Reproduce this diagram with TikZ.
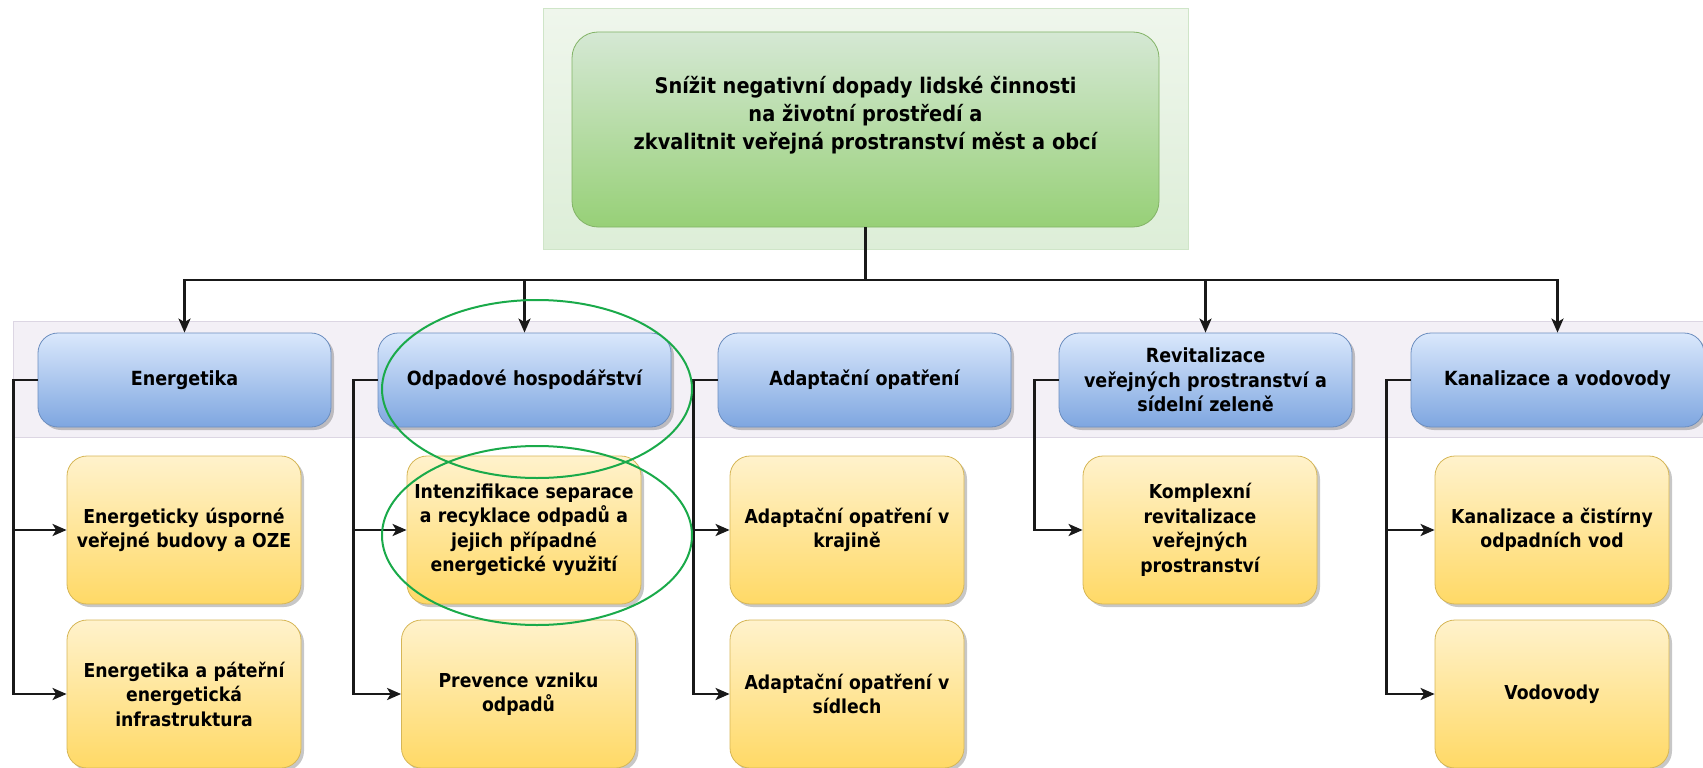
\documentclass[tikz,border=0pt]{standalone}
\usepackage{fontspec}
\setmainfont{DejaVu Sans Condensed}
\usetikzlibrary{arrows.meta,shadows,shapes.geometric}
\definecolor{blueTop}{HTML}{DAE8FC}
\definecolor{blueBot}{HTML}{7EA6E0}
\definecolor{blueStroke}{HTML}{6C8EBF}
\definecolor{yelTop}{HTML}{FFF2CC}
\definecolor{yelBot}{HTML}{FFD966}
\definecolor{yelStroke}{HTML}{D6B656}
\definecolor{grnTop}{HTML}{D5E8D4}
\definecolor{grnBot}{HTML}{97D077}
\definecolor{grnStroke}{HTML}{82B366}
\definecolor{bgTop}{HTML}{EFF6EC}
\definecolor{bgBot}{HTML}{DDEED8}
\definecolor{bgStroke}{HTML}{CFE5C8}
\definecolor{bandFill}{HTML}{F3F0F6}
\definecolor{bandStroke}{HTML}{DCD6E3}
\definecolor{markGreen}{HTML}{1AAA4A}
\tikzset{
  boxshadow/.style={drop shadow={shadow xshift=3pt,shadow yshift=-3pt,opacity=0.22,fill=black}},
  bluebox/.style={rounded corners=20pt,draw=blueStroke,line width=0.8pt,top color=blueTop,bottom color=blueBot,
    minimum width=293pt,minimum height=94pt,inner sep=0pt,align=center,text width=285pt,
    font=\bfseries\fontsize{19.5}{24.5}\selectfont,boxshadow},
  yelbox/.style={rounded corners=20pt,draw=yelStroke,line width=0.8pt,top color=yelTop,bottom color=yelBot,
    minimum width=234pt,minimum height=148pt,inner sep=0pt,align=center,text width=232pt,
    font=\bfseries\fontsize{19.2}{24.5}\selectfont,boxshadow},
  conn/.style={line width=2.8pt,draw=black!90},
  arr/.style={conn,-{Stealth[length=14pt,width=12pt,inset=3.5pt]}},
  markell/.style={ellipse,draw=markGreen,line width=2pt,inner sep=0pt}
}
\begin{document}
\begin{tikzpicture}[x=1pt,y=-1pt]
\useasboundingbox (0,0) rectangle (1703,768);
% backgrounds
\node[draw=bgStroke,line width=1pt,top color=bgTop,bottom color=bgBot,minimum width=645pt,minimum height=240pt,inner sep=0pt] (bg) at (865.5,129) {};
\node[draw=bandStroke,line width=1pt,fill=bandFill,minimum width=1700pt,minimum height=116pt,inner sep=0pt] (band) at (863,379) {};
% title
\node[rounded corners=26pt,draw=grnStroke,line width=0.8pt,top color=grnTop,bottom color=grnBot,minimum width=587pt,minimum height=195pt,inner sep=0pt] (top) at (865.5,129.5) {};
\node[align=center,font=\bfseries\fontsize{21.5}{28}\selectfont] (title) at (865.5,115) {Snížit negativní dopady lidské činnosti\\na životní prostředí a\\zkvalitnit veřejná prostranství měst a obcí};
% level 1
\node[bluebox] (en) at (184.5,380) {Energetika};
\node[bluebox] (od) at (524.5,380) {Odpadové hospodářství};
\node[bluebox] (ad) at (864.5,380) {Adaptační opatření};
\node[bluebox] (re) at (1205.5,380) {Revitalizace\\veřejných prostranství a\\sídelní zeleně};
\node[bluebox] (ka) at (1557.5,380) {Kanalizace a vodovody};
% level 2
\node[yelbox] (en1) at (184,530) {Energeticky úsporné\\veřejné budovy a OZE};
\node[yelbox] (en2) at (184,694) {Energetika a páteřní\\energetická\\infrastruktura};
\node[yelbox] (od1) at (524,530) {Intenzifikace separace\\a recyklace odpadů a\\jejich případné\\energetické využití};
\node[yelbox] (od2) at (518.5,694) {Prevence vzniku\\odpadů};
\node[yelbox] (ad1) at (847,530) {Adaptační opatření v\\krajině};
\node[yelbox] (ad2) at (847,694) {Adaptační opatření v\\sídlech};
\node[yelbox] (re1) at (1200,530) {Komplexní\\revitalizace\\veřejných\\prostranství};
\node[yelbox] (ka1) at (1552,530) {Kanalizace a čistírny\\odpadních vod};
\node[yelbox] (ka2) at (1552,694) {Vodovody};
% top connectors
\coordinate (hub) at (865.5,280);
\draw[conn] (top.south) -- (hub);
\draw[arr] (hub) -| (en.north);
\draw[arr] (hub) -| (od.north);
\draw[arr] (hub) -| (re.north);
\draw[arr] (hub) -| (ka.north);
% child connectors
\foreach \p/\c in {en/en1,en/en2,od/od1,od/od2,ad/ad1,ad/ad2,re/re1,ka/ka1,ka/ka2}{
  \draw[arr] (\p.west) -- ++(-24.5,0) |- (\c.west);
}
% annotation ellipses
\node[markell,minimum width=310pt,minimum height=178pt] (m1) at (537,389) {};
\node[markell,minimum width=310pt,minimum height=179pt] (m2) at (537,535.5) {};
\end{tikzpicture}
\end{document}
